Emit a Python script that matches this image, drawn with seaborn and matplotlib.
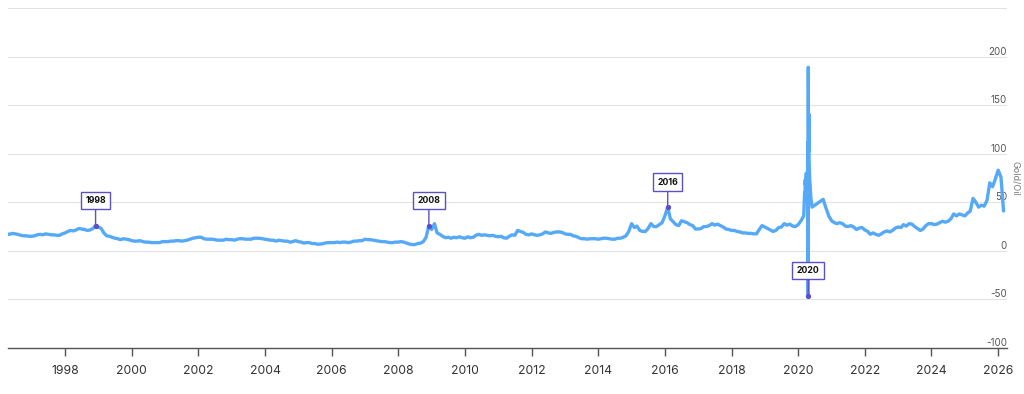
import numpy as np
import pandas as pd
import matplotlib
matplotlib.use("Agg")
import matplotlib.pyplot as plt
import matplotlib.dates as mdates
import seaborn as sns

# ---------------- data ----------------
month_start = "1996-04-01"
month_end = "2026-03-01"
ratio_1996 = [17.5, 17, 18, 17.5, 17, 16, 15.5, 15.5, 15]  # Apr-Dec
ratio_1997 = [15, 15.5, 16.5, 17, 16.5, 17.5, 17, 16.5, 16.5, 16, 16, 17.5]
ratio_1998 = [18.5, 20, 21, 20.5, 21.5, 23, 22.5, 22, 21, 21.5, 23, 26]
ratio_1999 = [24.5, 23, 18.5, 15.5, 15, 14, 13, 12.5, 11.5, 12.5, 12, 11.5]
ratio_2000 = [10.5, 10, 10, 10.5, 9.5, 9, 9, 8.5, 8.5, 8.5, 8.5, 9.5]
ratio_2001 = [9.5, 9.5, 10, 10, 10.5, 10.5, 10, 10.5, 11, 12, 13, 13.5]
ratio_2002 = [14, 14, 12.5, 12, 12, 12, 11.5, 11, 11, 11, 12, 11.5]
ratio_2003 = [11.5, 11, 12, 12.5, 12.5, 12, 12, 12, 13, 13, 13, 12.5]
ratio_2004 = [12, 11.5, 11, 11, 10, 11, 10.5, 10, 10, 9, 9.5, 10.5]
ratio_2005 = [9.5, 9, 8, 8.5, 8.5, 7.5, 7.5, 6.8, 7, 7.5, 8.3, 8.5]
ratio_2006 = [8.5, 8.5, 9, 8.5, 9, 9, 8.5, 9, 10, 10, 10.5, 10.5]
ratio_2007 = [12, 11.5, 11.5, 11, 10.5, 10, 9.5, 9.5, 9, 8.5, 8.5, 9]
ratio_2008 = [9, 9.5, 9, 8, 7, 6.5, 6.5, 7.5, 8, 9.5, 14, 26]
ratio_2009 = [22, 28, 18.5, 17, 15, 13.5, 14, 13, 14, 13.5, 14.5, 13.5]
ratio_2010 = [13, 14.5, 13.5, 14, 16, 17, 16, 16.5, 16, 15.5, 16, 15]
ratio_2011 = [14.5, 15, 13.5, 13, 15, 16.5, 16, 21, 20, 19, 17, 16.5]
ratio_2012 = [17.5, 16.5, 16, 16.5, 17.5, 19.5, 18.5, 18, 19, 19.5, 19.5, 19]
ratio_2013 = [17.5, 17, 17, 15.5, 15, 13.5, 12.5, 12.5, 12, 12.5, 12.5, 12.5]
ratio_2014 = [12, 12.5, 13, 13, 12.5, 12, 12, 13, 13, 14, 15.5, 20]
ratio_2015 = [28, 24, 25.5, 21, 20, 20, 23, 28, 25, 25, 27, 29]
ratio_2016 = [36, 45, 33, 30, 27, 26, 31, 30, 29, 27, 26, 22.5]
ratio_2017 = [22.5, 23, 25, 25, 26, 28, 26.5, 27.5, 26, 24.5, 22.5, 22]
ratio_2018 = [21, 21, 20, 19.5, 18.5, 18.5, 18, 18, 17.5, 17.5, 22, 26]
ratio_2019 = [24.5, 23, 21.5, 20, 21, 24, 24.5, 28, 26.5, 27.5, 25.5, 25]
ratio_2020 = [27, 31, None, None, None, 45, 47, 49, 51, 53, 44, 36]  # Mar-May from daily data below
ratio_2021 = [31, 29, 28, 29, 28, 25.5, 25, 26, 24.5, 22, 23.5, 24]
ratio_2022 = [21.5, 20, 17, 18.5, 17, 16, 17.5, 19.5, 20.5, 19.5, 21, 23.5]
ratio_2023 = [24.5, 24, 27, 25.5, 28, 27.5, 25, 23, 21, 22.5, 26, 28]
ratio_2024 = [28, 27, 27.5, 29, 30.5, 29.5, 30.5, 33, 38, 36, 38, 37]
ratio_2025 = [36, 39, 41, 54, 50, 45, 47, 46, 52, 70, 66, 74]
ratio_2026 = [83, 76, 41]

# spring 2020, daily closes around the negative oil price
spike_dates = ["2020-03-02", "2020-03-06", "2020-03-09", "2020-03-12", "2020-03-16",
               "2020-03-18", "2020-03-20", "2020-03-23", "2020-03-25", "2020-03-27",
               "2020-03-30", "2020-04-01", "2020-04-03", "2020-04-06", "2020-04-08",
               "2020-04-13", "2020-04-15", "2020-04-17", "2020-04-20", "2020-04-21",
               "2020-04-22", "2020-04-24", "2020-04-27", "2020-04-28", "2020-04-30",
               "2020-05-04", "2020-05-07", "2020-05-11", "2020-05-14", "2020-05-19",
               "2020-05-26"]
spike_values = [36, 45, 53, 60, 55, 73, 68, 70, 68, 77, 80, 78, 60, 64, 67, 78, 88, 112,
                -46, 189, 118, 102, 141, 110, 90, 82, 72, 68, 62, 55, 50]

annot_labels = ["1998", "2008", "2016", "2020"]
annot_dates = ["1998-12-01", "2008-12-01", "2016-02-01", "2020-04-20"]

x_start = "1996-04-15"
x_end = "2026-04-08"
y_ticks = [-100, -50, 0, 50, 100, 150, 200, 250]
y_tick_labels = ["-100", "-50", "0", "50", "100", "150", "200", ""]
y_label = "Gold/Oil"

# ---------------- build frame ----------------
monthly_vals = (ratio_1996 + ratio_1997 + ratio_1998 + ratio_1999 + ratio_2000 + ratio_2001 +
                ratio_2002 + ratio_2003 + ratio_2004 + ratio_2005 + ratio_2006 + ratio_2007 +
                ratio_2008 + ratio_2009 + ratio_2010 + ratio_2011 + ratio_2012 + ratio_2013 +
                ratio_2014 + ratio_2015 + ratio_2016 + ratio_2017 + ratio_2018 + ratio_2019 +
                ratio_2020 + ratio_2021 + ratio_2022 + ratio_2023 + ratio_2024 + ratio_2025 +
                ratio_2026)
months = pd.date_range(month_start, month_end, freq="MS")
df_m = pd.DataFrame({"date": months, "ratio": monthly_vals}).dropna()
df_s = pd.DataFrame({"date": pd.to_datetime(spike_dates), "ratio": spike_values})
df = pd.concat([df_m, df_s]).sort_values("date").reset_index(drop=True)

# ---------------- style ----------------
sns.set_theme(style="white")
plt.rcParams["font.family"] = ["Inter", "DejaVu Sans"]

LINE = "#55a9f6"
PURPLE = "#5c50c8"

fig = plt.figure(figsize=(10.24, 3.94), dpi=100)
ax = fig.add_axes([8 / 1024, 1 - 348 / 394, (1007 - 8) / 1024, (348 - 8) / 394])

sns.lineplot(data=df, x="date", y="ratio", ax=ax, color=LINE, linewidth=2.4,
             estimator=None, sort=True, legend=False)

ax.set_xlim(pd.Timestamp(x_start), pd.Timestamp(x_end))
ax.set_ylim(y_ticks[0], y_ticks[-1])

# y axis: labels inside on the right, above the gridlines
ax.yaxis.tick_right()
ax.set_yticks(y_ticks)
ax.set_yticklabels(y_tick_labels)
ax.tick_params(axis="y", length=0, pad=0, labelsize=7, labelcolor="#555555")
for lbl in ax.get_yticklabels():
    lbl.set_horizontalalignment("right")
    lbl.set_verticalalignment("bottom")
ax.grid(axis="y", color="#e3e3e3", linewidth=0.8)
ax.grid(axis="x", visible=False)

ax.set_ylabel(y_label, rotation=270, fontsize=6.5, color="#777777", ha="center", va="center")
ax.yaxis.set_label_position("right")
ax.yaxis.set_label_coords(1.013, 0.5)

# x axis
ax.xaxis.set_major_locator(mdates.YearLocator(2))
ax.xaxis.set_major_formatter(mdates.DateFormatter("%Y"))
ax.tick_params(axis="x", direction="out", length=6, width=1, color="#555555",
               labelsize=8.8, labelcolor="#333333", pad=6, bottom=True)
ax.set_xlabel("")

for s in ["left", "right", "top"]:
    ax.spines[s].set_visible(False)
ax.spines["bottom"].set_color("#555555")
ax.spines["bottom"].set_linewidth(1)

# annotations
for lab, d in zip(annot_labels, annot_dates):
    dt = pd.Timestamp(d)
    val = df.loc[df["date"] == dt, "ratio"].iloc[0]
    ax.plot([dt], [val], marker="o", markersize=2.8, color=PURPLE, zorder=5)
    ax.annotate(lab, xy=(dt, val), xytext=(0, 25), textcoords="offset pixels",
                ha="center", va="center", fontsize=6.3, fontweight="bold", color="#111111",
                bbox=dict(boxstyle="square,pad=0.5", fc="white", ec=PURPLE, lw=1),
                arrowprops=dict(arrowstyle="-", color=PURPLE, lw=1, shrinkA=0, shrinkB=0),
                zorder=6)

fig.savefig("out.png", dpi=100)
